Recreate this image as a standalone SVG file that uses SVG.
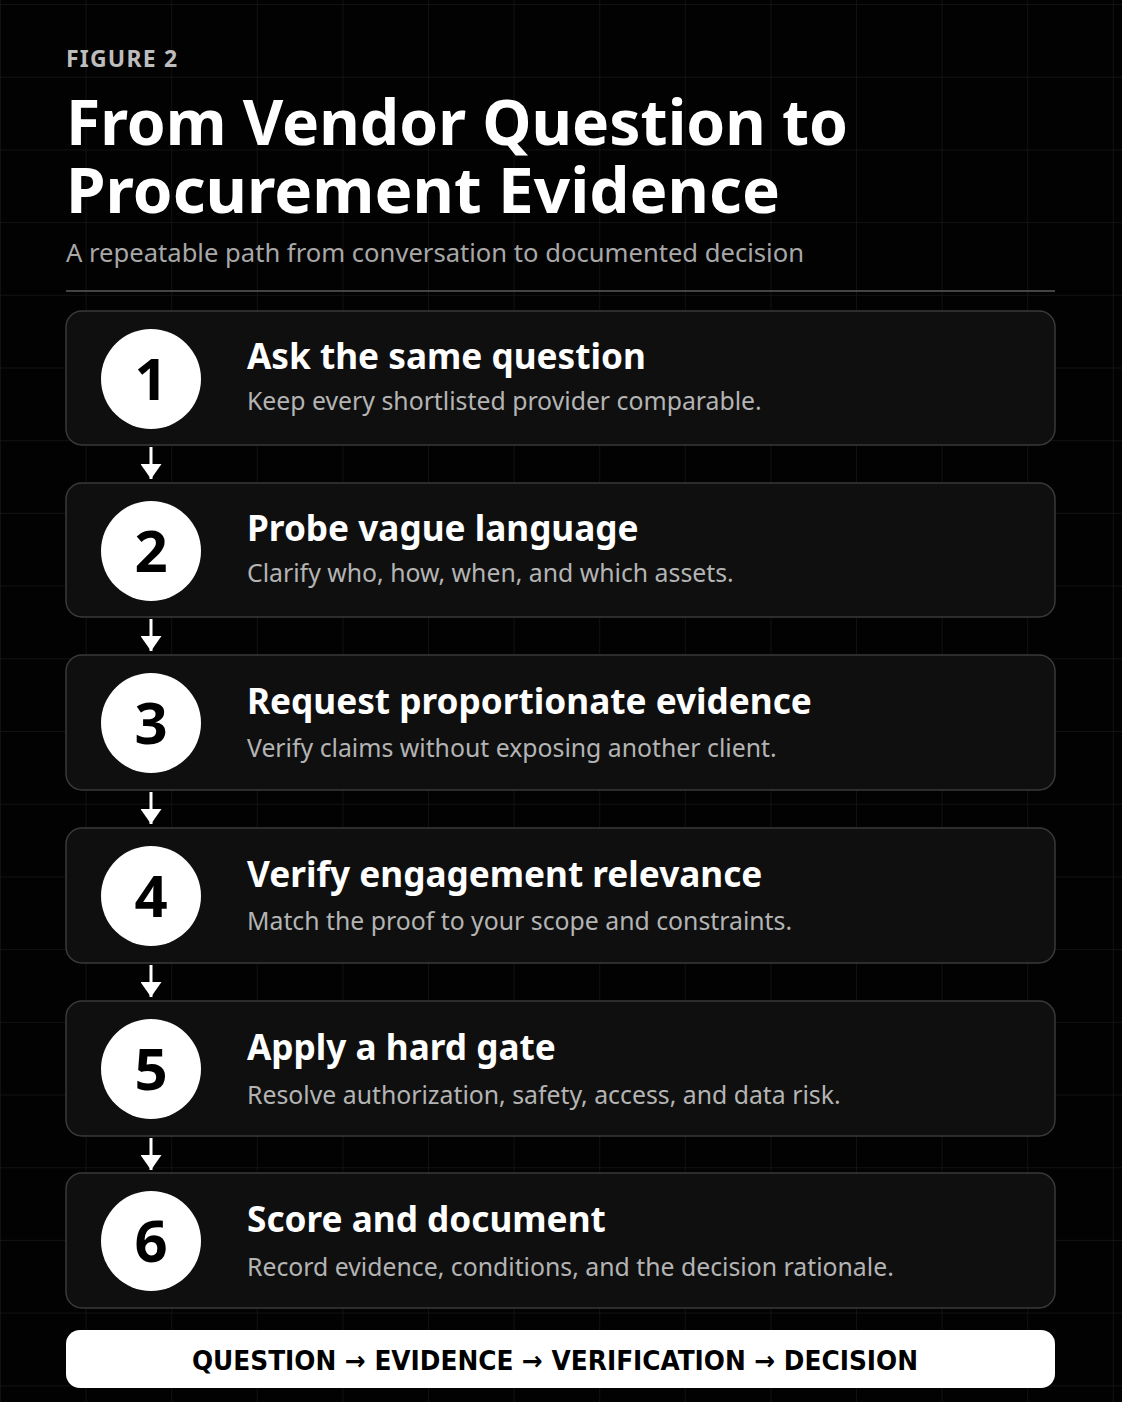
<svg xmlns="http://www.w3.org/2000/svg" width="1122" height="1402" viewBox="0 0 1122 1402">
  <defs>
    <pattern id="grid" x="0" y="4" width="85.6" height="72.7" patternUnits="userSpaceOnUse">
      <path d="M0 0 H85.6 M0 0 V72.7" fill="none" stroke="#161616" stroke-width="1.5"/>
    </pattern>
    <marker id="arrowhead" markerWidth="5" markerHeight="7" refX="5" refY="3.5" orient="auto" markerUnits="strokeWidth" viewBox="0 0 5 7">
      <path d="M0 0 L5 3.5 L0 7 Z" fill="#ffffff"/>
    </marker>
    <style>
      .card { fill: #0f0f0f; stroke: #3a3a3a; stroke-width: 1.5; }
      .badge { fill: #ffffff; }
      .num { font-family: "Noto Sans", "DejaVu Sans", sans-serif; font-weight: 700; font-size: 58px; fill: #000000; text-anchor: middle; }
      .ttl { font-family: "Noto Sans", "DejaVu Sans", sans-serif; font-weight: 700; font-size: 35.2px; fill: #ffffff; }
      .sub { font-family: "Noto Sans", "DejaVu Sans", sans-serif; font-weight: 400; font-size: 24.8px; fill: #b4b4b4; }
      .conn { stroke: #ffffff; stroke-width: 3; fill: none; }
    </style>
  </defs>

  <rect x="0" y="0" width="1122" height="1402" fill="#020202"/>
  <rect x="0" y="0" width="1122" height="1402" fill="url(#grid)"/>

  <g id="header">
    <text x="66" y="67" font-family="Noto Sans, DejaVu Sans, sans-serif" font-weight="700" font-size="23" letter-spacing="1.2" fill="#bdbdbd">FIGURE 2</text>
    <text x="66" y="145" textLength="782" lengthAdjust="spacingAndGlyphs" font-family="Noto Sans, DejaVu Sans, sans-serif" font-weight="700" font-size="62" fill="#ffffff">From Vendor Question to</text>
    <text x="66" y="213" textLength="714" lengthAdjust="spacingAndGlyphs" font-family="Noto Sans, DejaVu Sans, sans-serif" font-weight="700" font-size="62" fill="#ffffff">Procurement Evidence</text>
    <text x="66" y="262" font-family="Noto Sans, DejaVu Sans, sans-serif" font-size="25.6" fill="#a8a8a8">A repeatable path from conversation to documented decision</text>
    <line x1="66" y1="291" x2="1055" y2="291" stroke="#5a5a5a" stroke-width="1.5"/>
  </g>

  <g id="step1">
    <rect class="card" x="66" y="311" width="989" height="134" rx="16"/>
    <circle class="badge" cx="151" cy="379" r="50"/>
    <text class="num" x="151" y="400">1</text>
    <text class="ttl" x="247" y="369">Ask the same question</text>
    <text class="sub" x="247" y="410">Keep every shortlisted provider comparable.</text>
  </g>
  <g id="step2">
    <rect class="card" x="66" y="483" width="989" height="134" rx="16"/>
    <circle class="badge" cx="151" cy="551" r="50"/>
    <text class="num" x="151" y="572">2</text>
    <text class="ttl" x="247" y="541">Probe vague language</text>
    <text class="sub" x="247" y="582">Clarify who, how, when, and which assets.</text>
  </g>
  <g id="step3">
    <rect class="card" x="66" y="655" width="989" height="135" rx="16"/>
    <circle class="badge" cx="151" cy="723" r="50"/>
    <text class="num" x="151" y="744">3</text>
    <text class="ttl" x="247" y="714">Request proportionate evidence</text>
    <text class="sub" x="247" y="757">Verify claims without exposing another client.</text>
  </g>
  <g id="step4">
    <rect class="card" x="66" y="828" width="989" height="135" rx="16"/>
    <circle class="badge" cx="151" cy="896" r="50"/>
    <text class="num" x="151" y="917">4</text>
    <text class="ttl" x="247" y="887">Verify engagement relevance</text>
    <text class="sub" x="247" y="930">Match the proof to your scope and constraints.</text>
  </g>
  <g id="step5">
    <rect class="card" x="66" y="1001" width="989" height="135" rx="16"/>
    <circle class="badge" cx="151" cy="1069" r="50"/>
    <text class="num" x="151" y="1090">5</text>
    <text class="ttl" x="247" y="1060">Apply a hard gate</text>
    <text class="sub" x="247" y="1104">Resolve authorization, safety, access, and data risk.</text>
  </g>
  <g id="step6">
    <rect class="card" x="66" y="1173" width="989" height="135" rx="16"/>
    <circle class="badge" cx="151" cy="1241" r="50"/>
    <text class="num" x="151" y="1262">6</text>
    <text class="ttl" x="247" y="1232">Score and document</text>
    <text class="sub" x="247" y="1276">Record evidence, conditions, and the decision rationale.</text>
  </g>

  <g id="connectors">
    <line class="conn" x1="151" y1="447" x2="151" y2="479" marker-end="url(#arrowhead)"/>
    <line class="conn" x1="151" y1="619" x2="151" y2="651" marker-end="url(#arrowhead)"/>
    <line class="conn" x1="151" y1="792" x2="151" y2="824" marker-end="url(#arrowhead)"/>
    <line class="conn" x1="151" y1="965" x2="151" y2="997" marker-end="url(#arrowhead)"/>
    <line class="conn" x1="151" y1="1138" x2="151" y2="1170" marker-end="url(#arrowhead)"/>
  </g>

  <g id="summary">
    <rect x="66" y="1330" width="989" height="58" rx="14" fill="#ffffff"/>
    <text x="555" y="1370" text-anchor="middle" textLength="726" lengthAdjust="spacingAndGlyphs" font-family="DejaVu Sans Condensed, DejaVu Sans, sans-serif" font-stretch="condensed" font-weight="700" font-size="26" fill="#000000">QUESTION → EVIDENCE → VERIFICATION → DECISION</text>
  </g>
</svg>
